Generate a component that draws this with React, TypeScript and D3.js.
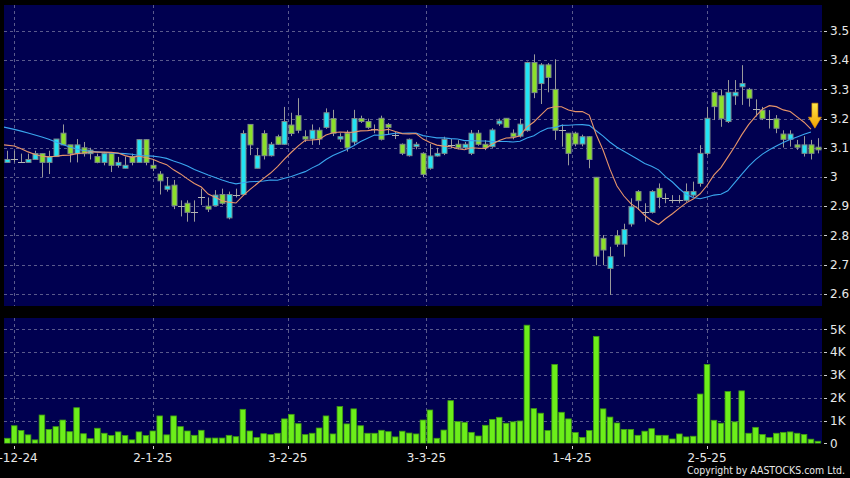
import React from 'react';
import * as d3 from 'd3';

const opens = [3.05,3.06,3.05,3.05,3.06,3.08,3.05,3.07,3.15,3.11,
3.08,3.10,3.08,3.07,3.05,3.08,3.04,3.03,3.07,3.05,
3.128,3.04,3.01,2.958,2.972,2.90,2.91,2.88,2.93,2.90,
2.902,2.94,2.86,2.94,2.94,3.18,3.03,3.149,3.073,3.138,
3.112,3.178,3.21,3.138,3.13,3.16,3.17,3.20,3.13,3.15,
3.12,3.20,3.19,3.165,3.201,3.18,3.144,3.112,3.073,3.104,
3.081,3.03,3.072,3.081,3.11,3.112,3.10,3.081,3.15,3.112,
3.104,3.182,3.201,3.15,3.14,3.159,3.392,3.32,3.384,3.30,
3.161,3.15,3.15,3.113,3.138,2.999,2.79,2.687,2.799,2.77,
2.839,2.95,2.879,2.879,2.961,2.927,2.921,2.92,2.92,2.938,
2.978,3.081,3.29,3.278,3.19,3.278,3.309,3.30,3.232,3.229,
3.20,3.199,3.147,3.129,3.11,3.081,3.11,3.102];

const highs = [3.09,3.09,3.08,3.08,3.09,3.08,3.09,3.13,3.18,3.11,
3.13,3.12,3.10,3.08,3.086,3.08,3.069,3.07,3.08,3.13,
3.13,3.06,3.02,3.00,2.99,2.92,2.92,2.92,2.96,2.93,
2.955,2.96,2.95,2.96,3.16,3.18,3.10,3.16,3.12,3.145,
3.24,3.22,3.27,3.16,3.18,3.17,3.235,3.23,3.15,3.16,
3.23,3.21,3.20,3.18,3.21,3.185,3.155,3.115,3.132,3.12,
3.085,3.113,3.10,3.138,3.13,3.126,3.12,3.161,3.161,3.126,
3.167,3.20,3.201,3.163,3.20,3.395,3.42,3.39,3.39,3.403,
3.18,3.15,3.155,3.145,3.14,3.0,2.801,2.761,2.818,2.84,
2.927,2.955,2.91,2.955,2.978,2.944,2.938,2.938,2.978,2.984,
3.109,3.24,3.295,3.30,3.332,3.332,3.383,3.305,3.266,3.24,
3.229,3.212,3.16,3.16,3.127,3.14,3.127,3.133];

const lows = [3.05,3.05,3.05,3.05,3.06,3.00,3.01,3.07,3.11,3.05,
3.05,3.07,3.06,3.047,3.04,3.017,3.032,3.03,3.04,3.05,
3.04,3.02,2.94,2.95,2.89,2.865,2.847,2.847,2.904,2.88,
2.90,2.905,2.855,2.93,2.94,3.075,3.03,3.06,3.07,3.11,
3.11,3.14,3.15,3.12,3.11,3.11,3.165,3.14,3.12,3.087,
3.11,3.185,3.165,3.15,3.125,3.145,3.13,3.075,3.07,3.095,
2.999,3.025,3.07,3.075,3.098,3.095,3.095,3.075,3.107,3.092,
3.10,3.175,3.17,3.129,3.135,3.155,3.27,3.25,3.29,3.127,
3.104,3.04,3.105,3.105,3.03,2.698,2.698,2.596,2.761,2.727,
2.83,2.887,2.847,2.875,2.893,2.91,2.91,2.91,2.915,2.932,
2.967,3.075,3.195,3.172,3.185,3.247,3.247,3.241,3.207,3.195,
3.166,3.15,3.101,3.104,3.093,3.07,3.06,3.081];

const closes = [3.06,3.06,3.05,3.06,3.08,3.05,3.07,3.13,3.11,3.08,
3.11,3.08,3.092,3.05,3.08,3.04,3.05,3.04,3.05,3.128,
3.05,3.03,2.987,2.969,2.902,2.90,2.879,2.88,2.93,2.89,
2.938,2.91,2.94,2.94,3.149,3.11,3.073,3.073,3.112,3.112,
3.19,3.149,3.16,3.13,3.16,3.13,3.22,3.15,3.138,3.10,
3.20,3.19,3.17,3.165,3.129,3.17,3.144,3.081,3.129,3.112,
3.009,3.072,3.081,3.129,3.11,3.10,3.112,3.15,3.112,3.10,
3.161,3.192,3.17,3.138,3.181,3.392,3.289,3.384,3.341,3.16,
3.161,3.081,3.113,3.138,3.06,2.729,2.75,2.727,2.77,2.82,
2.898,2.919,2.879,2.95,2.93,2.927,2.921,2.92,2.95,2.95,
3.081,3.201,3.241,3.20,3.29,3.29,3.32,3.27,3.232,3.20,
3.20,3.167,3.129,3.147,3.102,3.11,3.081,3.093];

// volume in thousands
const volumes = [0.22,0.77,0.56,0.37,0.15,1.24,0.61,0.73,1.02,0.51,
1.56,0.42,0.20,0.66,0.44,0.34,0.50,0.34,0.15,0.50,
0.34,0.54,1.20,0.37,1.20,0.73,0.54,0.35,0.57,0.23,
0.23,0.23,0.35,0.29,1.49,0.54,0.25,0.42,0.38,0.44,
1.07,1.27,0.86,0.38,0.44,0.67,1.20,0.41,1.61,0.85,
1.51,0.77,0.44,0.44,0.57,0.51,0.28,0.53,0.45,0.41,
1.02,1.46,0.22,0.58,1.87,0.95,0.92,0.48,0.32,0.79,
1.05,1.14,0.88,0.94,0.98,5.18,1.52,1.32,0.56,3.46,
1.36,1.07,0.47,0.26,0.56,4.69,1.51,1.15,0.89,0.61,
0.61,0.35,0.53,0.64,0.35,0.35,0.19,0.41,0.28,0.31,
2.16,3.46,1.01,0.88,2.27,0.94,2.30,0.44,0.70,0.39,
0.25,0.44,0.48,0.50,0.44,0.39,0.18,0.09];

// moving averages before enough history is shown
const ma10Lead = [3.110,3.106,3.097,3.086,3.077,3.071,3.069,3.071,3.074];
const ma20Lead = [3.171,3.163,3.157,3.151,3.144,3.137,3.129,3.120,3.111,3.103,
3.096,3.091,3.088,3.086,3.084,3.082,3.081,3.080,3.078];

const dateLabels = ['2-12-24', '2-1-25', '3-2-25', '3-3-25', '1-4-25', '2-5-25'];
const dateIndex = [1, 21, 40.5, 60.5, 81.5, 101];
const priceTicks = [2.6, 2.7, 2.8, 2.9, 3.0, 3.1, 3.2, 3.3, 3.4, 3.5];
const volTicks = [0, 1, 2, 3, 4, 5];

const FONT = 'DejaVu Sans, Verdana, sans-serif';

export default function App() {
  const n = closes.length;
  const left = 4, right = 822;
  const pTop = 5, pBot = 306;
  const vTop = 318, vBot = 443.5;

  const x = d3.scaleLinear().domain([0, n - 1]).range([7.3, 817.9]);
  const yP = d3.scaleLinear().domain([2.6, 3.5]).range([293.8, 31]);
  const yV = d3.scaleLinear().domain([0, 5]).range([443.3, 329.3]);

  const ma10 = closes.map((_, i) => (i < 9 ? ma10Lead[i] : (d3.mean(closes.slice(i - 9, i + 1)) as number)));
  const ma20 = closes.map((_, i) => (i < 19 ? ma20Lead[i] : (d3.mean(closes.slice(i - 19, i + 1)) as number)));
  const last = n - 2;
  const line = d3.line<number>().x((_, i) => (i === 0 ? left : x(i))).y((d) => yP(d));
  const ma10Path = line(ma10.slice(0, last + 1)) || '';
  const ma20Path = line(ma20.slice(0, last + 1)) || '';

  const gridColor = '#5a5a8c';
  const panelFill = '#000050';
  const upFill = '#22e4f4';
  const downFill = '#8ce02a';
  const wickColor = '#9a9a9a';

  const ax = x(n - 1) - 3;
  const ay = yP(ma10[last]) - 1;
  const arrow = `M${ax - 3},${ay - 25} L${ax + 3},${ay - 25} L${ax + 3},${ay - 11} L${ax + 6.5},${ay - 11} L${ax},${ay} L${ax - 6.5},${ay - 11} L${ax - 3},${ay - 11} Z`;

  return (
    <svg width={850} height={478} style={{ position: 'absolute', left: 0, top: 0, background: '#000' }}
      fontFamily={FONT}>
      <defs>
        <clipPath id="pclip"><rect x={left} y={pTop} width={right - left} height={pBot - pTop} /></clipPath>
        <clipPath id="vclip"><rect x={left} y={vTop} width={right - left} height={vBot - vTop} /></clipPath>
        <linearGradient id="arrowGrad" x1="0" y1="0" x2="0" y2="1">
          <stop offset="0%" stopColor="#ffe84a" />
          <stop offset="100%" stopColor="#f0a000" />
        </linearGradient>
      </defs>
      <rect x={0} y={0} width={850} height={478} fill="#000" />
      <rect x={left} y={pTop} width={right - left} height={pBot - pTop} fill={panelFill} />
      <rect x={left} y={vTop} width={right - left} height={vBot - vTop} fill={panelFill} />

      {/* grid */}
      <g stroke={gridColor} strokeDasharray="3,3" strokeWidth={1}>
        {priceTicks.map((t) => (
          <line key={'pg' + t} x1={left} x2={right} y1={Math.round(yP(t)) + 0.5} y2={Math.round(yP(t)) + 0.5} />
        ))}
        {volTicks.slice(1).map((t) => (
          <line key={'vg' + t} x1={left} x2={right} y1={Math.round(yV(t)) + 0.5} y2={Math.round(yV(t)) + 0.5} />
        ))}
        {dateIndex.map((d, k) => (
          <g key={'dg' + k}>
            <line x1={Math.round(x(d)) + 0.5} x2={Math.round(x(d)) + 0.5} y1={pTop} y2={pBot} />
            <line x1={Math.round(x(d)) + 0.5} x2={Math.round(x(d)) + 0.5} y1={vTop} y2={vBot} />
          </g>
        ))}
      </g>

      {/* candles */}
      <g clipPath="url(#pclip)">
        {closes.map((c, i) => {
          const o = opens[i];
          const cx = Math.round(x(i)) + 0.5;
          const doji = Math.abs(o - c) < 0.002;
          const top = yP(Math.max(o, c));
          const bot = yP(Math.min(o, c));
          return (
            <g key={'c' + i}>
              <line x1={cx} x2={cx} y1={yP(highs[i])} y2={yP(lows[i])} stroke={wickColor} strokeWidth={1} />
              {doji ? (
                <line x1={cx - 3.5} x2={cx + 3.5} y1={Math.round(yP(c)) + 0.5} y2={Math.round(yP(c)) + 0.5} stroke="#b4b4b4" strokeWidth={1} />
              ) : (
                <rect x={cx - 2.5} y={top} width={5} height={Math.max(1.5, bot - top)}
                  fill={c > o ? upFill : downFill} stroke="#7c8a8a" strokeWidth={1} />
              )}
            </g>
          );
        })}
        <path d={ma20Path} fill="none" stroke="#3aa6ee" strokeWidth={1.1} />
        <path d={ma10Path} fill="none" stroke="#e8956a" strokeWidth={1.1} />
        <path d={arrow} fill="url(#arrowGrad)" stroke="#e09000" strokeWidth={0.6} />
      </g>

      {/* volume */}
      <g clipPath="url(#vclip)">
        {volumes.map((v, i) => {
          const cx = x(i);
          return (
            <rect key={'v' + i} x={cx - 2.8} y={yV(v)} width={5.6} height={yV(0) - yV(v)}
              fill="#6cee1a" stroke="#3e9a12" strokeWidth={0.8} />
          );
        })}
      </g>

      {/* axis labels */}
      <g fill="#e8e8e8" fontSize={12}>
        {priceTicks.map((t) => (
          <g key={'pl' + t}>
            <line x1={824} x2={827} y1={Math.round(yP(t)) + 0.5} y2={Math.round(yP(t)) + 0.5} stroke="#d0d0d0" />
            <text x={830} y={yP(t)} dy="0.35em">{d3.format('~g')(t)}</text>
          </g>
        ))}
        {volTicks.map((t) => (
          <g key={'vl' + t}>
            <line x1={824} x2={827} y1={Math.round(yV(t)) + 0.5} y2={Math.round(yV(t)) + 0.5} stroke="#d0d0d0" />
            <text x={830} y={yV(t)} dy="0.35em">{t === 0 ? '0' : t + 'K'}</text>
          </g>
        ))}
        {dateIndex.map((d, k) => (
          <g key={'dl' + k}>
            <line x1={Math.round(x(d)) + 0.5} x2={Math.round(x(d)) + 0.5} y1={446} y2={449} stroke="#d0d0d0" />
            <text x={x(d)} y={462} textAnchor="middle">{dateLabels[k]}</text>
          </g>
        ))}
        <text x={845} y={473.5} textAnchor="end" fontSize={11} textLength={158} lengthAdjust="spacingAndGlyphs">Copyright by AASTOCKS.com Ltd.</text>
      </g>
    </svg>
  );
}
